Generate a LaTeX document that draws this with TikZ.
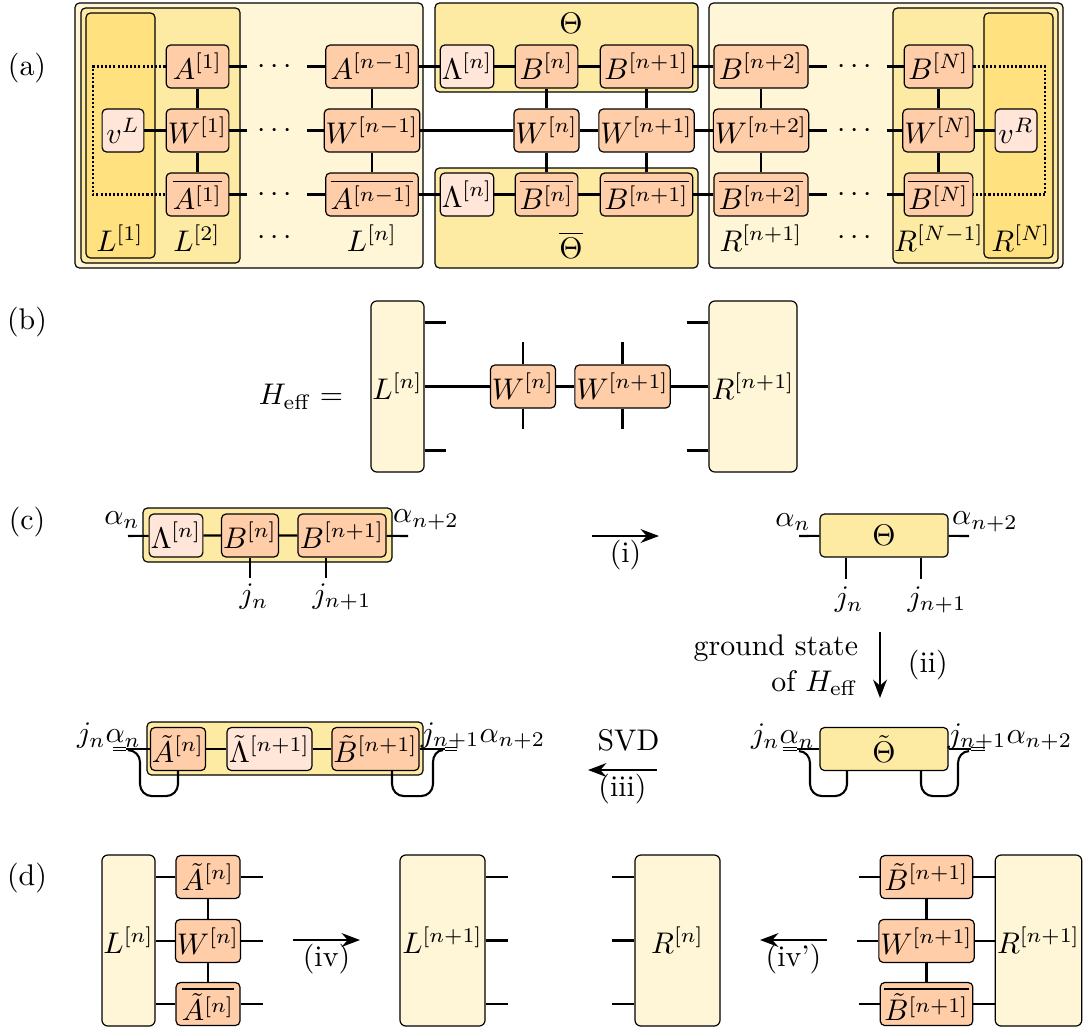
\documentclass[tikz,border=0pt]{standalone}
\usepackage{amsmath,amssymb}
\usetikzlibrary{arrows.meta,positioning,calc}
\definecolor{envlight}{HTML}{FFF5D7}
\definecolor{envmid}{HTML}{FDEBA4}
\definecolor{envdark}{HTML}{FFE27F}
\definecolor{sitecol}{HTML}{FFCDA8}
\definecolor{lamcol}{HTML}{FFE6D9}

\begin{document}
\begin{tikzpicture}[x=0.335pt, y=-0.335pt, >=Stealth,
    env/.style={draw, rounded corners=1.5pt, line width=0.4pt},
    tensor/.style={draw, rounded corners=1.5pt, line width=0.4pt,
                   minimum height=14.4pt, inner sep=0.5pt},
    site/.style={tensor, fill=sitecol},
    lam/.style={tensor, fill=lamcol},
    block/.style={draw, rounded corners=2pt, line width=0.4pt, fill=envlight,
                  minimum height=57.3pt, inner sep=0.5pt},
    leg/.style={line width=0.7pt},
    merged/.style={line width=0.5pt, double=white, double distance=0.45pt},
    tag/.style={inner sep=1pt}]
  \useasboundingbox (0,0) rectangle (1085,1028);

  % panel labels
  \node (pa) at (27,68) {(a)};
  \node (pb) at (27,322) {(b)};
  \node (pc) at (27,522) {(c)};
  \node (pd) at (27,878) {(d)};

  % ---------- (a) environments
  \draw[env, fill=envlight] (75,3) rectangle (423,268);
  \draw[env, fill=envmid] (81,8) rectangle (240,263);
  \draw[env, fill=envdark] (86,13) rectangle (155,258);
  \draw[env, fill=envmid] (435,3) rectangle (698,92);
  \draw[env, fill=envmid] (435,168) rectangle (698,268);
  \draw[env, fill=envlight] (709,3) rectangle (1063,268);
  \draw[env, fill=envmid] (893,8) rectangle (1058,263);
  \draw[env, fill=envdark] (984,13) rectangle (1053,258);

  % ---------- (a) tensors
  \node[lam, minimum width=14pt] (vL) at (123,130.5) {$v^L$};
  \node[site, minimum width=21pt] (A1) at (197.5,66.5) {$A^{[1]}$};
  \node[site, minimum width=21pt] (W1) at (197.5,130.5) {$W^{[1]}$};
  \node[site, minimum width=21pt] (Ab1) at (197.5,194.5) {$\overline{A^{[1]}}$};
  \node (dA) at (277,66.5) {$\cdots$};
  \node (dW) at (277,130.5) {$\cdots$};
  \node (dAb) at (277,194.5) {$\cdots$};
  \node[site, minimum width=31pt] (An) at (372,66.5) {$A^{[n-1]}$};
  \node[site, minimum width=31pt] (Wn1) at (372,130.5) {$W^{[n-1]}$};
  \node[site, minimum width=31pt] (Abn) at (372,194.5) {$\overline{A^{[n-1]}}$};
  \node[lam, minimum width=17.5pt] (LamT) at (467,66.5) {$\Lambda^{[n]}$};
  \node[lam, minimum width=17.5pt] (LamB) at (467,194.5) {$\Lambda^{[n]}$};
  \node[site, minimum width=21pt] (Bn) at (546.5,66.5) {$B^{[n]}$};
  \node[site, minimum width=21pt] (Wn) at (546.5,130.5) {$W^{[n]}$};
  \node[site, minimum width=21pt] (Bbn) at (546.5,194.5) {$\overline{B^{[n]}}$};
  \node[site, minimum width=31pt] (Bm) at (646.5,66.5) {$B^{[n+1]}$};
  \node[site, minimum width=31pt] (Wm) at (646.5,130.5) {$W^{[n+1]}$};
  \node[site, minimum width=31pt] (Bbm) at (646.5,194.5) {$\overline{B^{[n+1]}}$};
  \node[site, minimum width=31.5pt] (Bp) at (761,66.5) {$B^{[n+2]}$};
  \node[site, minimum width=31.5pt] (Wp) at (761,130.5) {$W^{[n+2]}$};
  \node[site, minimum width=31.5pt] (Bbp) at (761,194.5) {$\overline{B^{[n+2]}}$};
  \node (dB) at (857,66.5) {$\cdots$};
  \node (dWr) at (857,130.5) {$\cdots$};
  \node (dBb) at (857,194.5) {$\cdots$};
  \node[site, minimum width=23pt] (BN) at (938.5,66.5) {$B^{[N]}$};
  \node[site, minimum width=23pt] (WN) at (938.5,130.5) {$W^{[N]}$};
  \node[site, minimum width=23pt] (BbN) at (938.5,194.5) {$\overline{B^{[N]}}$};
  \node[lam, minimum width=14pt] (vR) at (1016,130.5) {$v^R$};

  % ---------- (a) labels
  \node (tTh) at (571,23) {$\Theta$};
  \node (tThb) at (571,245) {$\overline{\Theta}$};
  \node (tL1) at (120,238) {$L^{[1]}$};
  \node (tL2) at (197,238) {$L^{[2]}$};
  \node (tLd) at (277,238) {$\cdots$};
  \node (tLn) at (372,238) {$L^{[n]}$};
  \node (tR1) at (761,238) {$R^{[n+1]}$};
  \node (tRd) at (857,238) {$\cdots$};
  \node (tRN1) at (939,238) {$R^{[N-1]}$};
  \node (tRN) at (1021,238) {$R^{[N]}$};

  % ---------- (a) bonds
  \draw[leg] (A1) -- (dA) -- (An) -- (LamT) -- (Bn) -- (Bm) -- (Bp) -- (dB) -- (BN);
  \draw[leg] (vL) -- (W1) -- (dW) -- (Wn1) -- (Wn) -- (Wm) -- (Wp) -- (dWr) -- (WN) -- (vR);
  \draw[leg] (Ab1) -- (dAb) -- (Abn) -- (LamB) -- (Bbn) -- (Bbm) -- (Bbp) -- (dBb) -- (BbN);
  \foreach \t/\m/\b in {A1/W1/Ab1, An/Wn1/Abn, Bn/Wn/Bbn, Bm/Wm/Bbm, Bp/Wp/Bbp, BN/WN/BbN}
    \draw[leg] (\t) -- (\m) -- (\b);
  \draw[leg, dash pattern=on 0.7pt off 0.7pt] (A1.west) -- ++(-73,0) |- (Ab1.west);
  \draw[leg, dash pattern=on 0.7pt off 0.7pt] (BN.east) -- ++(72,0) |- (BbN.east);

  % ---------- (b)
  \node (Heff) at (301,397) {$H_{\mathrm{eff}} =$};
  \node[block, minimum width=17.8pt] (Lb) at (397.5,386.5) {$L^{[n]}$};
  \node[site, minimum width=21.4pt] (Wb) at (523,386.5) {$W^{[n]}$};
  \node[site, minimum width=31pt] (Wb1) at (622.5,386.5) {$W^{[n+1]}$};
  \node[block, minimum width=29.5pt] (Rb) at (753,386.5) {$R^{[n+1]}$};
  \draw[leg] (Lb) -- (Wb) -- (Wb1) -- (Rb);
  \foreach \dy in {-64,64} {
    \draw[leg] ([shift={(0,\dy)}]Lb.east) -- ++(21,0);
    \draw[leg] ([shift={(0,\dy)}]Rb.west) -- ++(-21,0);
  }
  \foreach \w in {Wb,Wb1} {
    \draw[leg] (\w.north) -- ++(0,-22);
    \draw[leg] (\w.south) -- ++(0,20);
  }

  % ---------- (c) two-site wave function
  \draw[env, fill=envmid] (143,508) rectangle (392,562);
  \node[lam, minimum width=18pt] (Lc) at (176,535.5) {$\Lambda^{[n]}$};
  \node[site, minimum width=18pt] (Bc) at (250,535.5) {$B^{[n]}$};
  \node[site, minimum width=29.5pt] (Bc1) at (342,535.5) {$B^{[n+1]}$};
  \coordinate (aL) at (128,536);
  \coordinate (aR) at (408,536);
  \draw[leg] (aL) -- (Lc) -- (Bc) -- (Bc1) -- (aR);
  \draw[leg] (Bc.south) -- ++(0,20);
  \draw[leg] ([shift={(-16,0)}]Bc1.south) -- ++(0,20);
  \node (an) at (122,520) {$\alpha_n$};
  \node (an2) at (426,520) {$\alpha_{n+2}$};
  \node (jn) at (254,597) {$j_n$};
  \node (jn1) at (342,597) {$j_{n+1}$};

  % (i)
  \coordinate (i0) at (592,536);
  \coordinate (i1) at (659,536);
  \draw[leg, ->] (i0) -- node[below, tag] (ti) {(i)} (i1);

  % Theta
  \node[tensor, fill=envmid, minimum width=42.9pt] (Th) at (884,535.5) {$\Theta$};
  \coordinate (tL) at (799,536);
  \coordinate (tR) at (969,536);
  \draw[leg] (tL) -- (Th) -- (tR);
  \draw[leg] ([shift={(-38,0)}]Th.south) -- ++(0,21);
  \draw[leg] ([shift={(37,0)}]Th.south) -- ++(0,21);
  \node (than) at (793,522) {$\alpha_n$};
  \node (than2) at (985,522) {$\alpha_{n+2}$};
  \node (thjn) at (849,600) {$j_n$};
  \node (thjn1) at (937,600) {$j_{n+1}$};

  % (ii)
  \coordinate (ii0) at (880,632);
  \coordinate (ii1) at (880,698);
  \draw[leg, ->] (ii0) -- node[right=9pt, inner sep=0pt] (tii) {(ii)}
    node[left=7pt, inner sep=0pt, align=right] (tgs) {ground state\\of $H_{\mathrm{eff}}$} (ii1);

  % Theta tilde
  \node[tensor, fill=envmid, minimum width=42.9pt] (Tt) at (884,749) {$\tilde\Theta$};
  \draw[leg] (Tt.west) -- ++(-22,0) coordinate (mTL);
  \draw[leg] ([shift={(-37,0)}]Tt.south) -- ++(0,13) to[out=-90,in=0] ++(-12,12)
    -- ++(-13,0) to[out=180,in=-90] ++(-12,-12) -- ++(0,-21) to[out=90,in=0] ++(-11,-12);
  \draw[merged] (mTL) -- ++(-14,0);
  \draw[leg] (Tt.east) -- ++(22,0) coordinate (mTR);
  \draw[leg] ([shift={(37,0)}]Tt.south) -- ++(0,13) to[out=-90,in=180] ++(12,12)
    -- ++(13,0) to[out=0,in=-90] ++(12,-12) -- ++(0,-21) to[out=90,in=180] ++(11,-12);
  \draw[merged] (mTR) -- ++(14,0);
  \node (ttl) at (783,737) {$j_n\alpha_n$};
  \node (ttr) at (1010,737) {$j_{n+1}\alpha_{n+2}$};

  % (iii)
  \coordinate (iii0) at (657,770);
  \coordinate (iii1) at (588,770);
  \draw[leg, ->] (iii0) -- node[below, tag] (tiii) {(iii)}
    node[above, tag, yshift=5pt, xshift=2pt] (tsvd) {SVD} (iii1);

  % after SVD
  \draw[env, fill=envmid] (147,722) rectangle (423,775);
  \node[site, minimum width=17.5pt] (Atc) at (178,749) {$\tilde A^{[n]}$};
  \node[lam, minimum width=28.5pt] (Ltc) at (269.5,749) {$\tilde\Lambda^{[n+1]}$};
  \node[site, minimum width=28.5pt] (Btc) at (375.5,749) {$\tilde B^{[n+1]}$};
  \draw[leg] (Atc) -- (Ltc) -- (Btc);
  \draw[leg] (Atc.west) -- ++(-24,0) coordinate (mAL);
  \draw[leg] (Atc.south) -- ++(0,13) to[out=-90,in=0] ++(-12,12)
    -- ++(-14,0) to[out=180,in=-90] ++(-12,-12) -- ++(0,-22) to[out=90,in=0] ++(-12,-12);
  \draw[merged] (mAL) -- ++(-13,0);
  \draw[leg] (Btc.east) -- ++(25,0) coordinate (mBR);
  \draw[leg] ([shift={(16.5,0)}]Btc.south) -- ++(0,13) to[out=-90,in=180] ++(12,12)
    -- ++(17,0) to[out=0,in=-90] ++(12,-12) -- ++(0,-22) to[out=90,in=180] ++(10,-12);
  \draw[merged] (mBR) -- ++(12,0);
  \node (acl) at (109,736) {$j_n\alpha_n$};
  \node (acr) at (483,736) {$j_{n+1}\alpha_{n+2}$};

  % ---------- (d)
  \node[block, minimum width=17.8pt] (Ld) at (128.5,940.5) {$L^{[n]}$};
  \node[site, minimum width=21.4pt] (Atd) at (208,877) {$\tilde A^{[n]}$};
  \node[site, minimum width=21.4pt] (Wd) at (208,941) {$W^{[n]}$};
  \node[site, minimum width=21.4pt] (Atbd) at (208,1004) {$\overline{\tilde A^{[n]}}$};
  \draw[leg] (Atd) -- (Wd) -- (Atbd);
  \foreach \t in {Atd,Wd,Atbd} {
    \draw[leg] (\t.west) -- (\t.west -| Ld.east);
    \draw[leg] (\t.east) -- ++(22,0);
  }
  \coordinate (iv0) at (293,940);
  \coordinate (iv1) at (360,940);
  \draw[leg, ->] (iv0) -- node[below, tag] (tiv) {(iv)} (iv1);
  \node[block, minimum width=28.5pt] (Ln1) at (442.5,940.5) {$L^{[n+1]}$};
  \foreach \dy in {-63.5,0,63.5}
    \draw[leg] ([shift={(0,\dy)}]Ln1.east) -- ++(22,0);

  \node[block, minimum width=28.5pt] (Rn) at (677.5,940.5) {$R^{[n]}$};
  \foreach \dy in {-63.5,0,63.5}
    \draw[leg] ([shift={(0,\dy)}]Rn.west) -- ++(-22,0);
  \coordinate (ivp0) at (827,940);
  \coordinate (ivp1) at (760,940);
  \draw[leg, ->] (ivp0) -- node[below, tag] (tivp) {(iv')} (ivp1);
  \node[site, minimum width=31pt] (Btd) at (926.5,877) {$\tilde B^{[n+1]}$};
  \node[site, minimum width=31pt] (Wd1) at (926.5,941) {$W^{[n+1]}$};
  \node[site, minimum width=31pt] (Btbd) at (926.5,1004) {$\overline{\tilde B^{[n+1]}}$};
  \node[block, minimum width=29pt] (Rd) at (1038.5,940.5) {$R^{[n+1]}$};
  \draw[leg] (Btd) -- (Wd1) -- (Btbd);
  \foreach \t in {Btd,Wd1,Btbd} {
    \draw[leg] (\t.east) -- (\t.east -| Rd.west);
    \draw[leg] (\t.west) -- ++(-21,0);
  }
\end{tikzpicture}
\end{document}
